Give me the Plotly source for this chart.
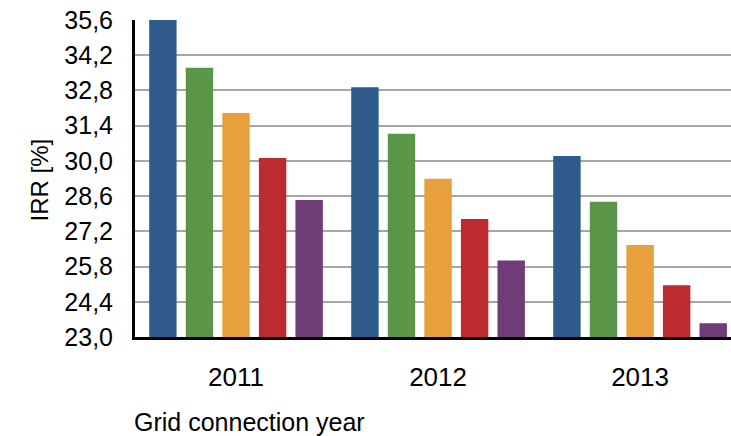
import plotly.graph_objects as go

years = ["2011", "2012", "2013"]
series_names = ["S1", "S2", "S3", "S4", "S5"]
series_values = [
    [35.6, 32.93, 30.19],
    [33.70, 31.08, 28.38],
    [31.90, 29.29, 26.66],
    [30.11, 27.69, 25.06],
    [28.45, 26.04, 23.55],
]
colors = ["#2E5A8C", "#5B9548", "#E8A03D", "#BD2B31", "#6F3C78"]
y_ticks = [23.0, 24.4, 25.8, 27.2, 28.6, 30.0, 31.4, 32.8, 34.2, 35.6]

fig = go.Figure()
for name, vals, col in zip(series_names, series_values, colors):
    fig.add_trace(go.Bar(
        x=years, y=vals, name=name,
        marker=dict(color=col, line=dict(width=0)),
        showlegend=False,
    ))

family = "Liberation Sans, Arial, sans-serif"
font_y = dict(family=family, size=25, color="black")
font_x = dict(family=family, size=26, color="black")
font_t = dict(family=family, size=25, color="black")
font_yt = dict(family=family, size=24, color="black")

fig.update_layout(
    width=731, height=436,
    margin=dict(l=135, r=0, t=20, b=99),
    paper_bgcolor="white", plot_bgcolor="white",
    barmode="group", bargap=0.095, bargroupgap=0.25,
    separators=", ",
    font=font_y,
    xaxis=dict(
        type="category", range=[-0.5, 2.45],
        showgrid=False, showline=True, linecolor="black", linewidth=3,
        ticks="", ticklabelstandoff=15, tickfont=font_x,
    ),
    yaxis=dict(
        range=[23.0, 35.6], tickvals=y_ticks, tickformat=".1f",
        showgrid=True, gridcolor="#A6A6A6", gridwidth=2,
        showline=True, linecolor="black", linewidth=3,
        ticks="", ticklabelstandoff=14, tickfont=font_y,
        zeroline=False,
    ),
    annotations=[
        dict(text="IRR [%]", textangle=-90, xref="paper", yref="paper",
             x=-135/596, y=(436-99-180)/317, xanchor="left", yanchor="middle",
             xshift=23, showarrow=False, font=font_yt),
        dict(text="Grid connection year", xref="paper", yref="paper",
             x=0, y=0, xanchor="left", yanchor="middle", xshift=-3, yshift=-85,
             showarrow=False, font=font_t),
    ],
)

fig.write_html("out.html")
